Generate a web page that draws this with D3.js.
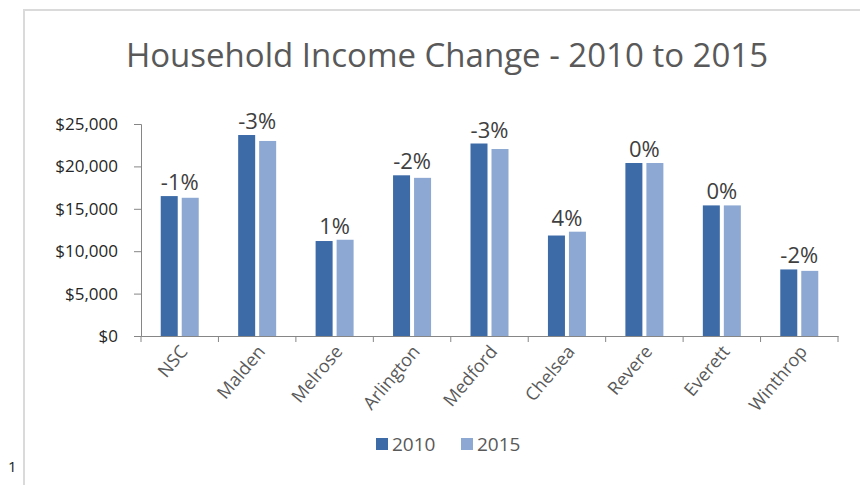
<!DOCTYPE html>
<html>
<head>
<meta charset="utf-8">
<script src="https://cdn.jsdelivr.net/npm/d3@7"></script>
<style>
  html, body { margin: 0; padding: 0; background: #fff; }
  svg { display: block; }
  text { font-family: "Open Sans", "Noto Sans", sans-serif; }
</style>
</head>
<body>
<svg id="chart" width="860" height="485"></svg>
<script>
// Median household income by community, 2010 vs 2015
const categories = ["NSC", "Malden", "Melrose", "Arlington", "Medford", "Chelsea", "Revere", "Everett", "Winthrop"];
const income2010 = [16500, 23700, 11200, 18950, 22700, 11850, 20400, 15400, 7850];
const income2015 = [16300, 23000, 11350, 18650, 22050, 12300, 20400, 15400, 7680];
const changeLabels = ["-1%", "-3%", "1%", "-2%", "-3%", "4%", "0%", "0%", "-2%"];
const seriesNames = ["2010", "2015"];
const yTicks = [0, 5000, 10000, 15000, 20000, 25000];

const colors = ["#3d6ba8", "#8da8d2"];
const svg = d3.select("#chart");

// outer frame of the chart area
svg.append("line").attr("x1", 23).attr("x2", 860).attr("y1", 10).attr("y2", 10)
  .attr("stroke", "#dadada").attr("stroke-width", 2);
svg.append("line").attr("x1", 24).attr("x2", 24).attr("y1", 10).attr("y2", 485)
  .attr("stroke", "#dadada").attr("stroke-width", 2);
svg.append("text").attr("x", 8).attr("y", 472).attr("font-size", 15)
  .attr("fill", "#222").text("1");

// title
svg.append("text")
  .attr("x", 447).attr("y", 67)
  .attr("text-anchor", "middle")
  .attr("font-size", 33)
  .attr("fill", "#595959")
  .text("Household Income Change - 2010 to 2015");

const plot = { left: 141, right: 838, top: 124, bottom: 336 };

const x = d3.scaleBand().domain(categories).range([plot.left, plot.right]).padding(0);
const y = d3.scaleLinear().domain([0, 25000]).range([plot.bottom, plot.top]);

const barW = 17, barGap = 4;

// y axis
const yAxis = svg.append("g")
  .attr("transform", `translate(${plot.left},0)`)
  .call(d3.axisLeft(y).tickValues(yTicks).tickSize(7).tickPadding(16)
    .tickFormat(d => "$" + d3.format(",")(d)));
yAxis.select(".domain").attr("stroke", "#868686");
yAxis.selectAll(".tick line").attr("stroke", "#868686");
yAxis.selectAll(".tick text").attr("font-size", 17).attr("fill", "#262626")
  .attr("font-family", "'Open Sans', sans-serif");

// bars
const groups = svg.append("g").selectAll("g")
  .data(categories)
  .join("g")
  .attr("transform", d => `translate(${x(d) + x.bandwidth() / 2},0)`);

[income2010, income2015].forEach((vals, s) => {
  groups.append("rect")
    .attr("x", s === 0 ? -(barW + barGap / 2) : barGap / 2)
    .attr("width", barW)
    .attr("y", (d, i) => y(vals[i]))
    .attr("height", (d, i) => y(0) - y(vals[i]))
    .attr("fill", colors[s]);
});

// change labels above each pair
groups.append("text")
  .attr("text-anchor", "middle")
  .attr("y", (d, i) => y(Math.max(income2010[i], income2015[i])) - 6)
  .attr("font-size", 22)
  .attr("fill", "#404040")
  .text((d, i) => changeLabels[i]);

// x axis
const xAxis = svg.append("g")
  .attr("transform", `translate(0,${plot.bottom})`)
  .call(d3.axisBottom(x).tickSize(0).tickFormat(""));
xAxis.select(".domain").attr("stroke", "#868686");
// category separators
svg.append("g").selectAll("line")
  .data(d3.range(categories.length + 1))
  .join("line")
  .attr("x1", i => plot.left + i * x.step())
  .attr("x2", i => plot.left + i * x.step())
  .attr("y1", plot.bottom).attr("y2", plot.bottom + 6)
  .attr("stroke", "#868686");

// rotated category labels
svg.append("g").selectAll("text")
  .data(categories)
  .join("text")
  .attr("transform", d => `translate(${x(d) + x.bandwidth() / 2 + 4},${plot.bottom + 12}) rotate(-50)`)
  .attr("text-anchor", "end")
  .attr("dy", "0.35em")
  .attr("font-size", 18)
  .attr("fill", "#595959")
  .text(d => d);

// legend
const legend = svg.append("g").attr("transform", "translate(376,444)");
const items = legend.selectAll("g").data(seriesNames).join("g")
  .attr("transform", (d, i) => `translate(${i * 85},0)`);
items.append("rect").attr("x", 0).attr("y", -6).attr("width", 12).attr("height", 12)
  .attr("fill", (d, i) => colors[i]);
items.append("text").attr("x", 16).attr("dy", "0.35em")
  .attr("font-size", 19).attr("fill", "#595959").text(d => d);
</script>
</body>
</html>
